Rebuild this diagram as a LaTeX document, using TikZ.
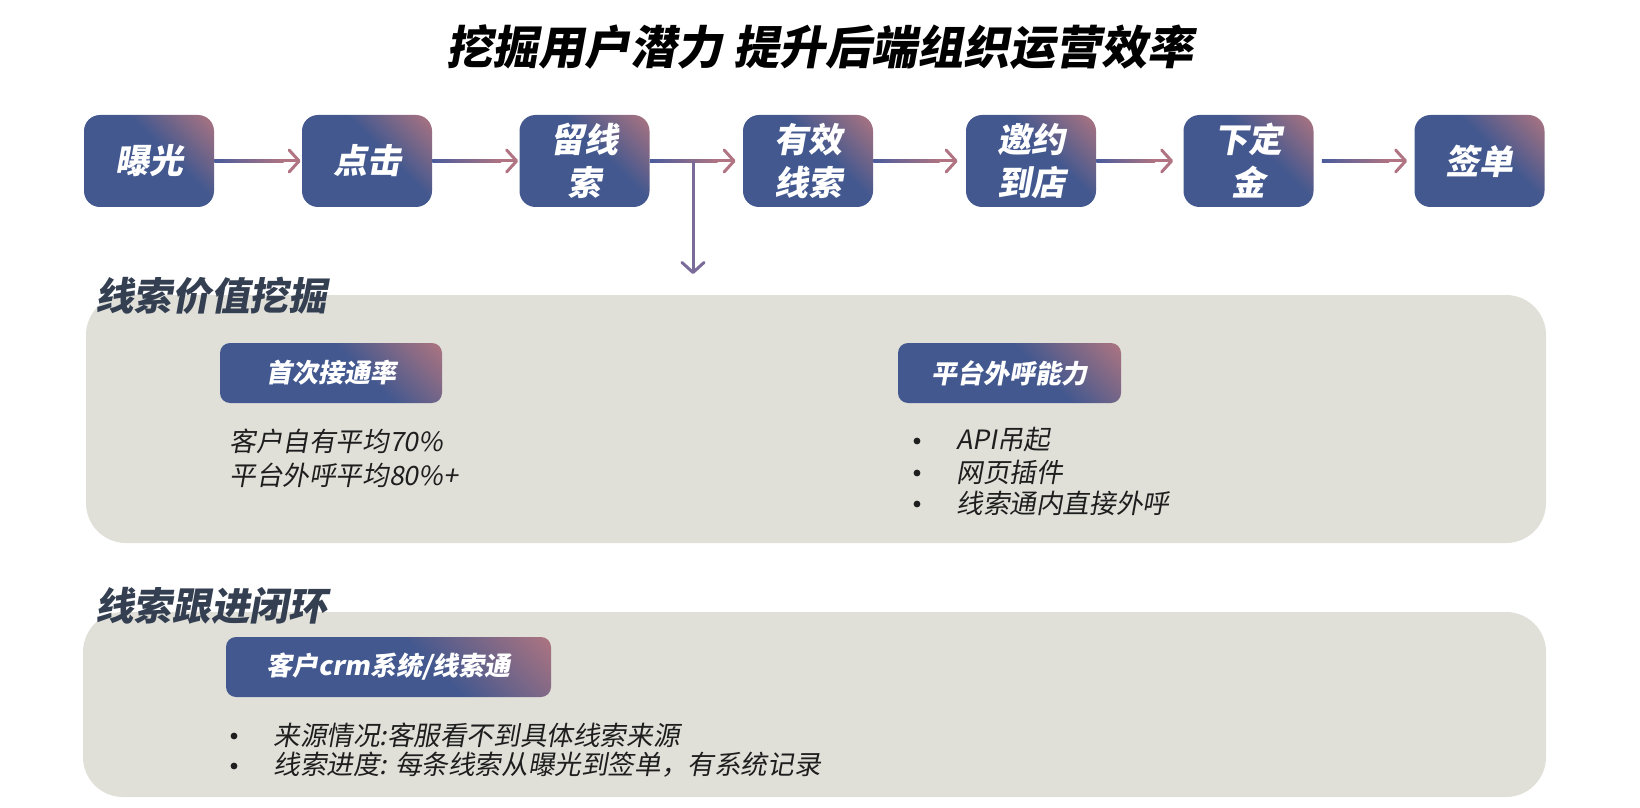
\documentclass[tikz,border=0pt]{standalone}
\usepackage{fontspec}
\newfontfamily\cjk[FakeSlant=0.18]{Noto Sans CJK SC}
\usetikzlibrary{arrows.meta,calc}
\definecolor{boxblue}{HTML}{42588F}
\definecolor{boxpink}{HTML}{B07580}
\definecolor{lineblue}{HTML}{4A5C9C}
\definecolor{linepink}{HTML}{B07482}
\definecolor{vline}{HTML}{7A6B9A}
\definecolor{panelbg}{HTML}{E0E0D9}
\definecolor{labelc}{HTML}{344052}
\definecolor{bodyc}{HTML}{1E1E1E}
\pgfdeclarehorizontalshading{boxgrad}{100bp}{color(0bp)=(boxblue); color(58bp)=(boxblue); color(86bp)=(boxpink); color(100bp)=(boxpink)}
\tikzset{
  flowbox/.style={shade, shading=boxgrad, shading angle=45, rounded corners=8pt,
    minimum width=65pt, minimum height=46pt, inner sep=0pt, text=white, align=center,
    font=\cjk\bfseries\fontsize{17}{21.5}\selectfont},
  headbox/.style={shade, shading=boxgrad, shading angle=45, rounded corners=5pt,
    minimum height=30pt, inner sep=0pt, text=white,
    font=\cjk\bfseries\fontsize{13}{16}\selectfont},
  panel/.style={fill=panelbg, rounded corners=20pt, inner sep=0pt},
  seclabel/.style={text=labelc, inner sep=0pt, font=\cjk\bfseries\fontsize{19.3}{23}\selectfont},
  body/.style={text=bodyc, inner sep=0pt, font=\cjk\fontsize{13.3}{17}\selectfont},
  bul/.style={circle, fill=bodyc, inner sep=0pt, minimum size=3.4pt},
  conn/.style={draw=linepink, line width=1.5pt, -{Straight Barb[length=5pt,width=11pt,round]}},
  vconn/.style={draw=vline, line width=1.5pt, -{Straight Barb[length=5pt,width=11pt,round]}},
  gradstem/.style={left color=lineblue, right color=linepink},
}
\begin{document}
\begin{tikzpicture}[x=0.5pt,y=-0.5pt]
\useasboundingbox (0,0) rectangle (1640,808);
\fill[white] (0,0) rectangle (1640,808);

% title
\node[font=\cjk\bfseries\fontsize{23}{28}\selectfont, text=black] (title) at (820,47) {挖掘用户潜力 提升后端组织运营效率};

% flow boxes
\node[flowbox] (n1) at (149,161) {曝光};
\node[flowbox] (n2) at (367,161) {点击};
\node[flowbox] (n3) at (584.5,161) {留线\\索};
\node[flowbox] (n4) at (808,161) {有效\\线索};
\node[flowbox] (n5) at (1031,161) {邀约\\到店};
\node[flowbox] (n6) at (1248.5,161) {下定\\金};
\node[flowbox] (n7) at (1479.5,161) {签单};

% connectors
\draw[conn, shorten >=0.5pt] (n1) -- (n2);
\shade[gradstem] ($(n1.east)+(0,-1.5)$) rectangle ($(n2.west)+(-18,1.5)$);
\draw[conn, shorten >=0.5pt] (n2) -- (n3);
\shade[gradstem] ($(n2.east)+(0,-1.5)$) rectangle ($(n3.west)+(-18,1.5)$);
\draw[conn, shorten >=3.5pt] (n3) -- (n4);
\shade[gradstem] ($(n3.east)+(0,-1.5)$) rectangle ($(n4.west)+(-25,1.5)$);
\draw[conn, shorten >=4pt] (n4) -- (n5);
\shade[gradstem] ($(n4.east)+(0,-1.5)$) rectangle ($(n5.west)+(-26,1.5)$);
\draw[conn, shorten >=5pt] (n5) -- (n6);
\shade[gradstem] ($(n5.east)+(0,-1.5)$) rectangle ($(n6.west)+(-28,1.5)$);
\draw[conn, shorten <=4pt, shorten >=3.5pt] (n6) -- (n7);
\shade[gradstem] ($(n6.east)+(8,-1.5)$) rectangle ($(n7.west)+(-25,1.5)$);

\coordinate (br) at (693,161);
\coordinate (brend) at (693,274);
\draw[vconn] (br) -- (brend);

% panel 1
\node[panel, minimum width=730pt, minimum height=124pt] (p1) at (816,419) {};
\node[seclabel, anchor=west] (s1) at (95,296) {线索价值挖掘};
\node[headbox, minimum width=111pt] (h1) at (331,373) {首次接通率};
\node[headbox, minimum width=111.5pt] (h2) at (1009.5,373) {平台外呼能力};
\node[body, anchor=west, align=left] (t1) at (229,458) {客户自有平均70\%\\平台外呼平均80\%+};
\node[bul] (d1) at (917,441) {};
\node[body, anchor=west] (r1) at (956,440) {API吊起};
\node[bul] (d2) at (917,473) {};
\node[body, anchor=west] (r2) at (956,472) {网页插件};
\node[bul] (d3) at (917,504) {};
\node[body, anchor=west] (r3) at (956,503) {线索通内直接外呼};

% panel 2
\node[panel, minimum width=731.5pt, minimum height=92.5pt] (p2) at (814.5,704.5) {};
\node[seclabel, anchor=west] (s2) at (95,606) {线索跟进闭环};
\node[headbox, minimum width=162.5pt] (h3) at (388.5,667) {客户crm系统/线索通};
\node[bul] (d4) at (234,736) {};
\node[body, anchor=west] (q1) at (273,735) {来源情况:客服看不到具体线索来源};
\node[bul] (d5) at (234,766) {};
\node[body, anchor=west] (q2) at (273,765) {线索进度: 每条线索从曝光到签单，有系统记录};
\end{tikzpicture}
\end{document}
